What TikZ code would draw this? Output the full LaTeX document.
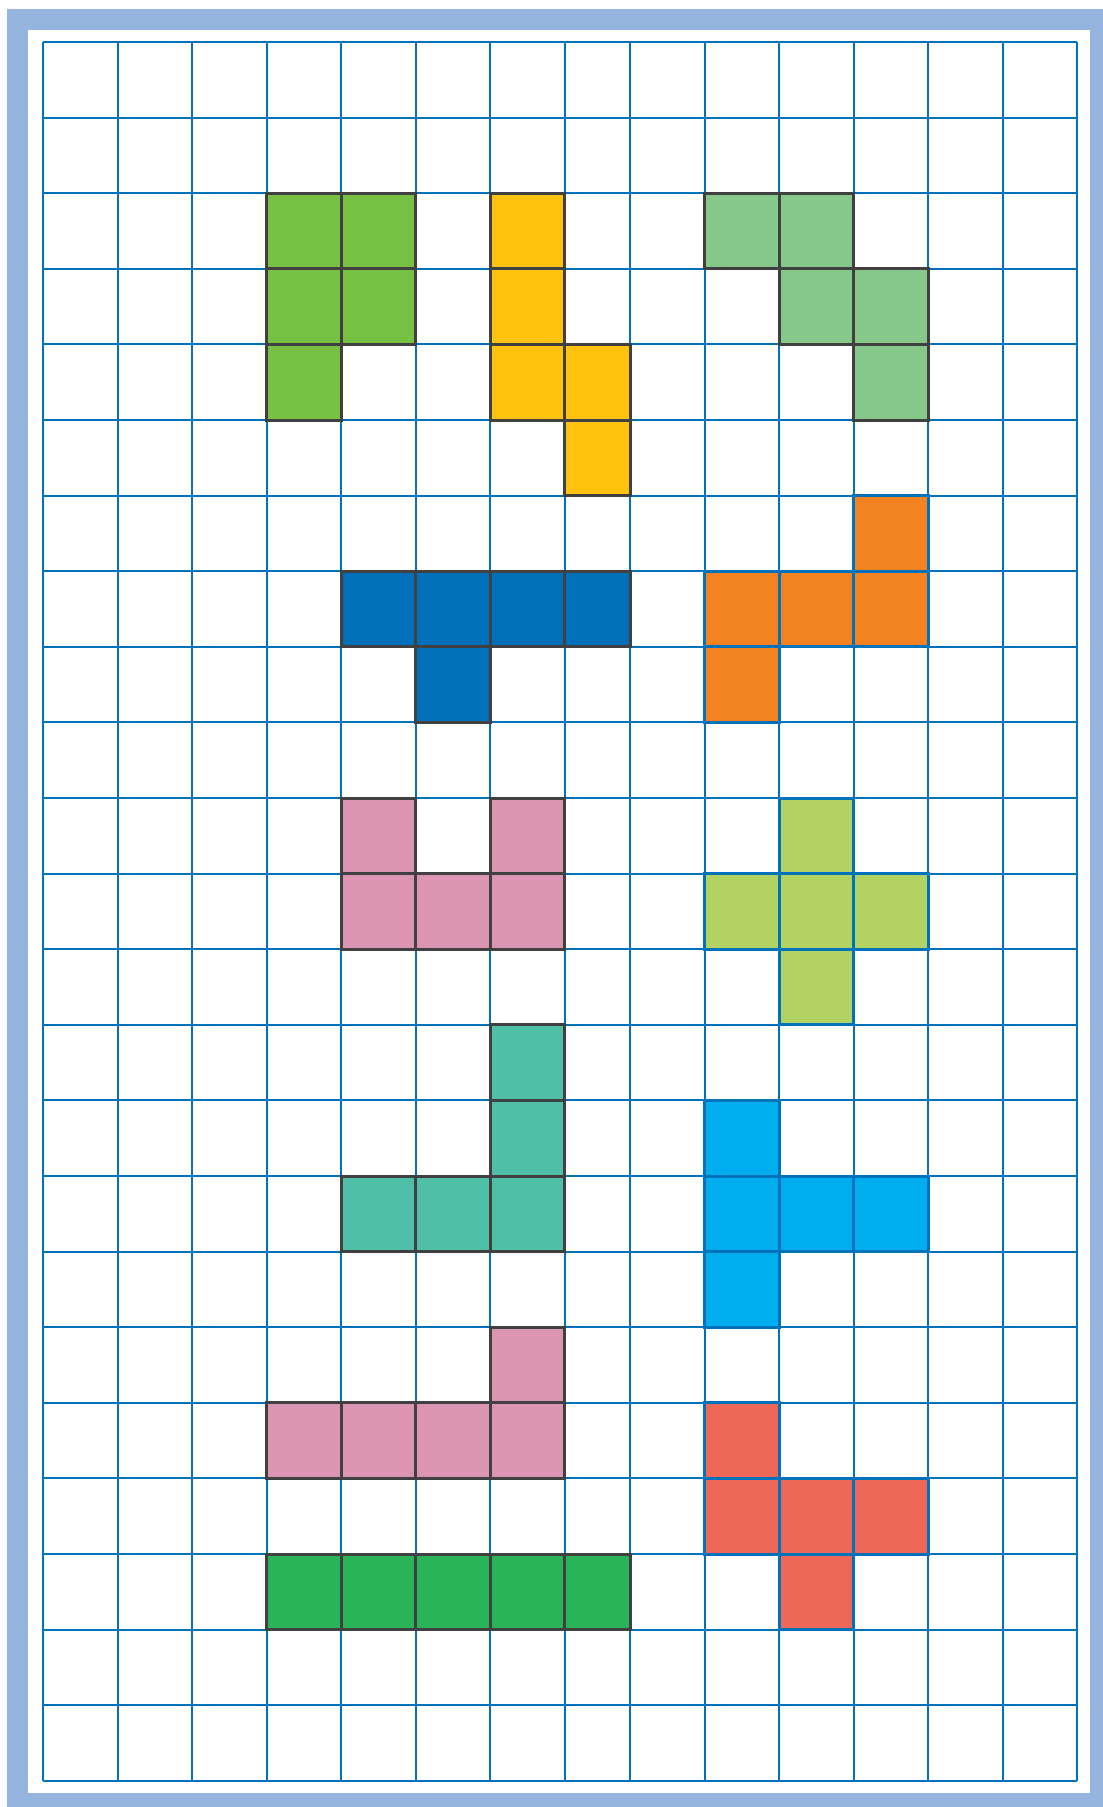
\documentclass[tikz,border=0pt]{standalone}
\usepackage{tikz}

\definecolor{frameblue}{RGB}{149,181,222}
\definecolor{gridblue}{RGB}{0,114,188}
\definecolor{edgegray}{RGB}{64,64,64}
\definecolor{limegreen}{RGB}{118,192,67}
\definecolor{sunyellow}{RGB}{255,194,14}
\definecolor{sagegreen}{RGB}{134,200,138}
\definecolor{deepblue}{RGB}{0,112,186}
\definecolor{tangerine}{RGB}{243,130,33}
\definecolor{rosepink}{RGB}{219,149,176}
\definecolor{peagreen}{RGB}{178,211,98}
\definecolor{seateal}{RGB}{79,192,167}
\definecolor{skycyan}{RGB}{0,174,239}
\definecolor{coralred}{RGB}{239,104,87}
\definecolor{grassgreen}{RGB}{42,180,90}

\tikzset{
  gridline/.style={draw=gridblue, line width=0.2mm},
  darkpiece/.style={fill=#1, draw=edgegray, line width=0.3mm},
  bluepiece/.style={fill=#1, draw=gridblue, line width=0.3mm},
}

% one square of a piece: column, row, style
\newcommand{\pcell}[3]{%
  \pgfmathsetmacro{\xl}{#1<8 ? 43+74.5*#1 : 34+74.5*#1}%
  \pgfmathsetmacro{\xr}{#1<7 ? 43+74.5*(#1+1) : 34+74.5*(#1+1)}%
  \filldraw[#3] (\xl,{42+75.6*#2}) rectangle (\xr,{42+75.6*(#2+1)});%
}

\begin{document}
\begin{tikzpicture}[x=0.1mm, y=-0.1mm]
\useasboundingbox (0,0) rectangle (1103,1807);
\fill[white] (0,0) rectangle (1103,1807);
\draw[frameblue, line width=2.1mm] (17.5,19.5) rectangle (1100.5,1803.5);

% the grid
\foreach \i in {0,...,14} {
  \pgfmathsetmacro{\gx}{\i<8 ? 43+74.5*\i : 34+74.5*\i}
  \draw[gridline] (\gx,42) -- (\gx,1780.8);
}
\foreach \j in {0,...,23}
  \draw[gridline] (43,{42+75.6*\j}) -- (1077,{42+75.6*\j});

% the pieces
\foreach \c/\r in {3/2,4/2,3/3,4/3,3/4} \pcell{\c}{\r}{darkpiece=limegreen};
\foreach \c/\r in {6/2,6/3,6/4,7/4,7/5} \pcell{\c}{\r}{darkpiece=sunyellow};
\foreach \c/\r in {9/2,10/2,10/3,11/3,11/4} \pcell{\c}{\r}{darkpiece=sagegreen};
\foreach \c/\r in {4/7,5/7,6/7,7/7,5/8} \pcell{\c}{\r}{darkpiece=deepblue};
\foreach \c/\r in {11/6,9/7,10/7,11/7,9/8} \pcell{\c}{\r}{bluepiece=tangerine};
\foreach \c/\r in {4/10,6/10,4/11,5/11,6/11} \pcell{\c}{\r}{darkpiece=rosepink};
\foreach \c/\r in {10/10,9/11,10/11,11/11,10/12} \pcell{\c}{\r}{bluepiece=peagreen};
\foreach \c/\r in {6/13,6/14,4/15,5/15,6/15} \pcell{\c}{\r}{darkpiece=seateal};
\foreach \c/\r in {9/14,9/15,10/15,11/15,9/16} \pcell{\c}{\r}{bluepiece=skycyan};
\foreach \c/\r in {6/17,3/18,4/18,5/18,6/18} \pcell{\c}{\r}{darkpiece=rosepink};
\foreach \c/\r in {9/18,9/19,10/19,11/19,10/20} \pcell{\c}{\r}{bluepiece=coralred};
\foreach \c/\r in {3/20,4/20,5/20,6/20,7/20} \pcell{\c}{\r}{darkpiece=grassgreen};
\end{tikzpicture}
\end{document}
